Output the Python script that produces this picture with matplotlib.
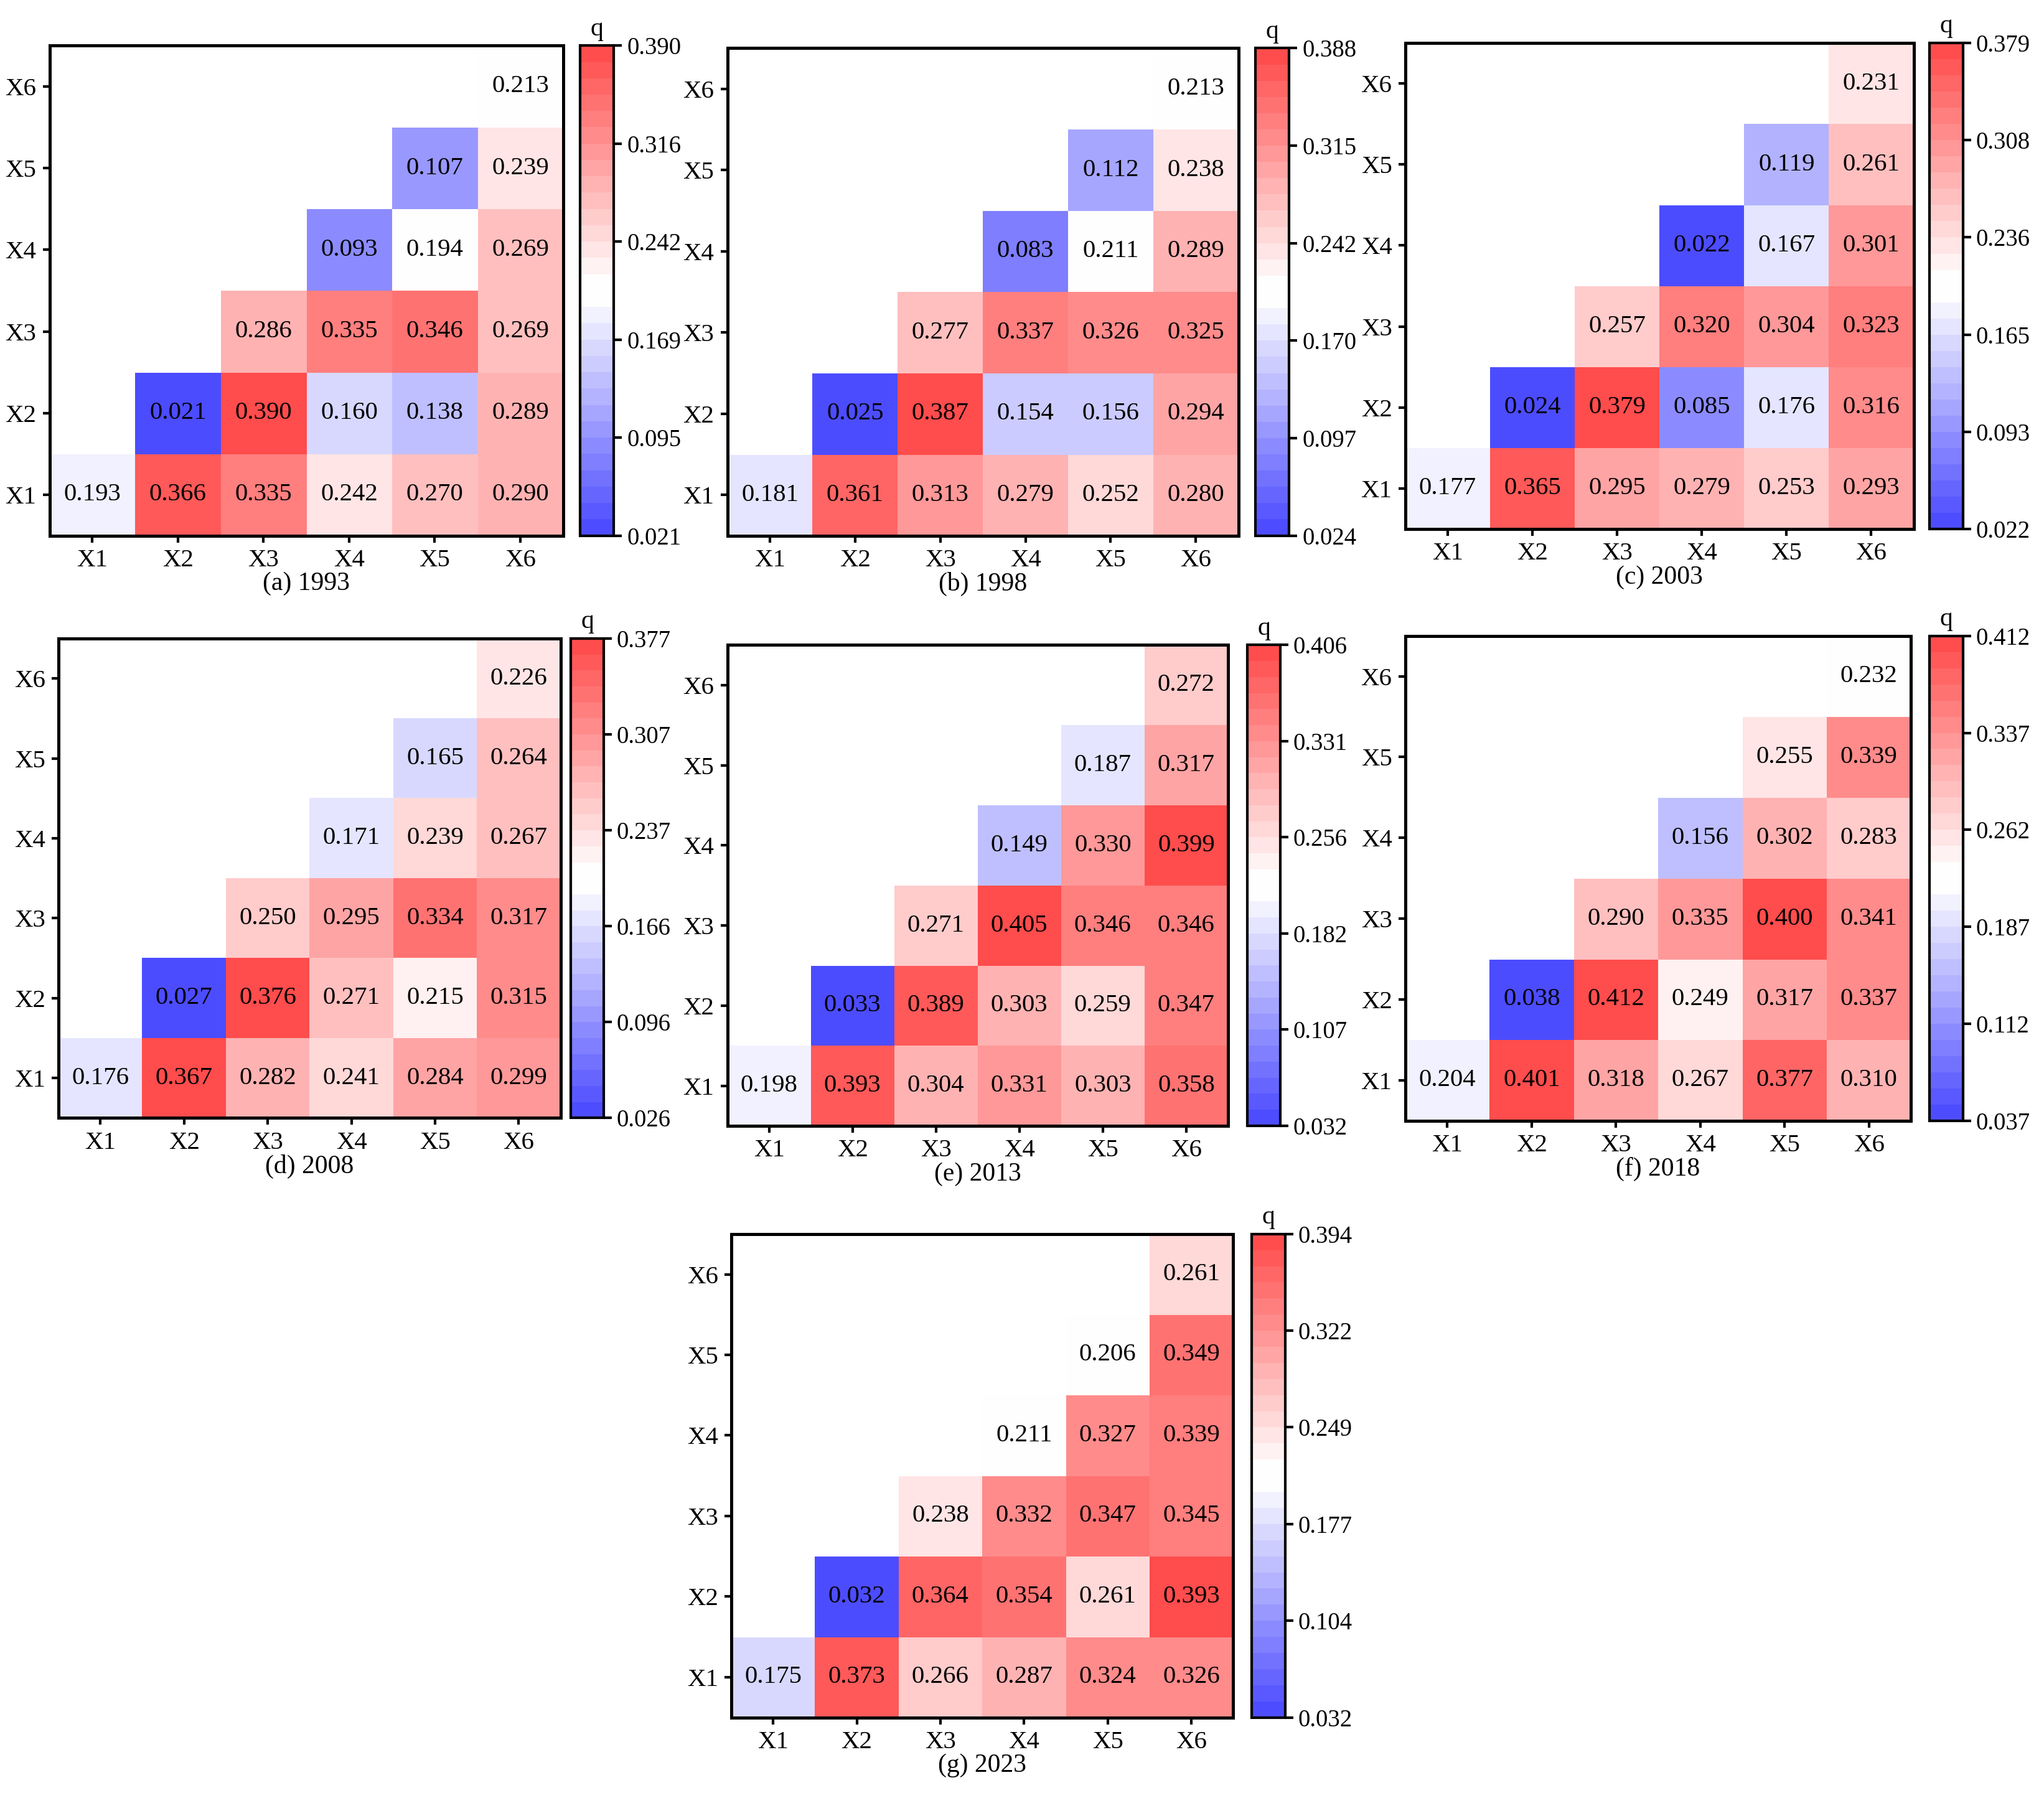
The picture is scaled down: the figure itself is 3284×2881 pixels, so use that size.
import matplotlib
matplotlib.use("Agg")
import matplotlib.pyplot as plt
import numpy as np
from matplotlib.colors import ListedColormap, Normalize

plt.rcParams['font.family'] = ['Liberation Serif', 'DejaVu Serif']

labels = ["X1", "X2", "X3", "X4", "X5", "X6"]
titels = ["(a) 1993", "(b) 1998", "(c) 2003", "(d) 2008", "(e) 2013", "(f) 2018", "(g) 2023"]

# upper triangle, row Xi holds columns Xi..X6
q1993 = [[0.193, 0.366, 0.335, 0.242, 0.270, 0.290],
         [0.021, 0.390, 0.160, 0.138, 0.289],
         [0.286, 0.335, 0.346, 0.269],
         [0.093, 0.194, 0.269],
         [0.107, 0.239],
         [0.213]]
q1998 = [[0.181, 0.361, 0.313, 0.279, 0.252, 0.280],
         [0.025, 0.387, 0.154, 0.156, 0.294],
         [0.277, 0.337, 0.326, 0.325],
         [0.083, 0.211, 0.289],
         [0.112, 0.238],
         [0.213]]
q2003 = [[0.177, 0.365, 0.295, 0.279, 0.253, 0.293],
         [0.024, 0.379, 0.085, 0.176, 0.316],
         [0.257, 0.320, 0.304, 0.323],
         [0.022, 0.167, 0.301],
         [0.119, 0.261],
         [0.231]]
q2008 = [[0.176, 0.367, 0.282, 0.241, 0.284, 0.299],
         [0.027, 0.376, 0.271, 0.215, 0.315],
         [0.250, 0.295, 0.334, 0.317],
         [0.171, 0.239, 0.267],
         [0.165, 0.264],
         [0.226]]
q2013 = [[0.198, 0.393, 0.304, 0.331, 0.303, 0.358],
         [0.033, 0.389, 0.303, 0.259, 0.347],
         [0.271, 0.405, 0.346, 0.346],
         [0.149, 0.330, 0.399],
         [0.187, 0.317],
         [0.272]]
q2018 = [[0.204, 0.401, 0.318, 0.267, 0.377, 0.310],
         [0.038, 0.412, 0.249, 0.317, 0.337],
         [0.290, 0.335, 0.400, 0.341],
         [0.156, 0.302, 0.283],
         [0.255, 0.339],
         [0.232]]
q2023 = [[0.175, 0.373, 0.266, 0.287, 0.324, 0.326],
         [0.032, 0.364, 0.354, 0.261, 0.393],
         [0.238, 0.332, 0.347, 0.345],
         [0.211, 0.327, 0.339],
         [0.206, 0.349],
         [0.261]]
alle_q = [q1993, q1998, q2003, q2008, q2013, q2018, q2023]

qmin = [0.021, 0.024, 0.022, 0.026, 0.032, 0.037, 0.032]
qmax = [0.390, 0.388, 0.379, 0.377, 0.406, 0.412, 0.394]

# layout in pixels of a 1568 x 1376 grid: heatmap (l, r, t, b), colorbar (l, r)
W, H = 1568.0, 1376.0
posities = [
    (38, 432, 35, 411, 445, 471),
    (558, 950, 37, 411, 963, 989),
    (1078, 1468, 33, 406, 1480, 1506),
    (45, 430, 490, 858, 438, 463),
    (558, 942, 495, 864, 957, 982),
    (1078, 1466, 488, 860, 1480, 1506),
    (561, 946, 947, 1318, 960, 986),
]

# bwr with alpha 0.7 on white, 30 steps, the two middle steps pure white
n_stap = 30
half = n_stap // 2
t = np.concatenate([np.linspace(0, 0.5, half), np.linspace(0.5, 1, half)])
basis = plt.get_cmap("bwr")(t)
basis[:, :3] = 0.3 + 0.7 * basis[:, :3]
cmap = ListedColormap(basis)


def matrix(rijen):
    m = np.full((6, 6), np.nan)
    for i, rij in enumerate(rijen):
        for k, v in enumerate(rij):
            m[i, i + k] = v
    return m


fig = plt.figure(figsize=(3284 / 300, 2881 / 300), dpi=300)

for n in range(7):
    l, r, tp, b, cl, cr = posities[n]
    ax = fig.add_axes([l / W, 1 - b / H, (r - l) / W, (b - tp) / H])
    cax = fig.add_axes([cl / W, 1 - b / H, (cr - cl) / W, (b - tp) / H])

    m = matrix(alle_q[n])
    norm = Normalize(vmin=qmin[n], vmax=qmax[n])
    im = ax.imshow(np.ma.masked_invalid(m), cmap=cmap, norm=norm, origin="lower",
                   extent=(0, 6, 0, 6), aspect="auto", interpolation="nearest")
    for i in range(6):
        for j in range(6):
            if not np.isnan(m[i, j]):
                ax.text(j + 0.5, i + 0.5, "%.3f" % m[i, j], ha="center", va="center",
                        fontsize=9.8, color="black")

    ax.set_xlim(0, 6)
    ax.set_ylim(0, 6)
    ax.set_xticks(np.arange(6) + 0.5)
    ax.set_yticks(np.arange(6) + 0.5)
    ax.set_xticklabels(labels)
    ax.set_yticklabels(labels)
    ax.tick_params(axis="both", labelsize=9.8, length=2.7, width=1, direction="out", pad=2.4)
    for sp in ax.spines.values():
        sp.set_linewidth(1.2)
    ax.set_xlabel(titels[n], fontsize=10, labelpad=0)

    cb = fig.colorbar(im, cax=cax)
    cb.set_ticks(np.linspace(qmin[n], qmax[n], 6))
    cb.ax.set_yticklabels(["%.3f" % v for v in np.linspace(qmin[n], qmax[n], 6)])
    cb.ax.tick_params(labelsize=9.3, length=3, width=1, pad=2)
    cb.outline.set_linewidth(1)
    cb.ax.set_title("q", fontsize=10, pad=4)

fig.savefig("out.png", dpi=300)
